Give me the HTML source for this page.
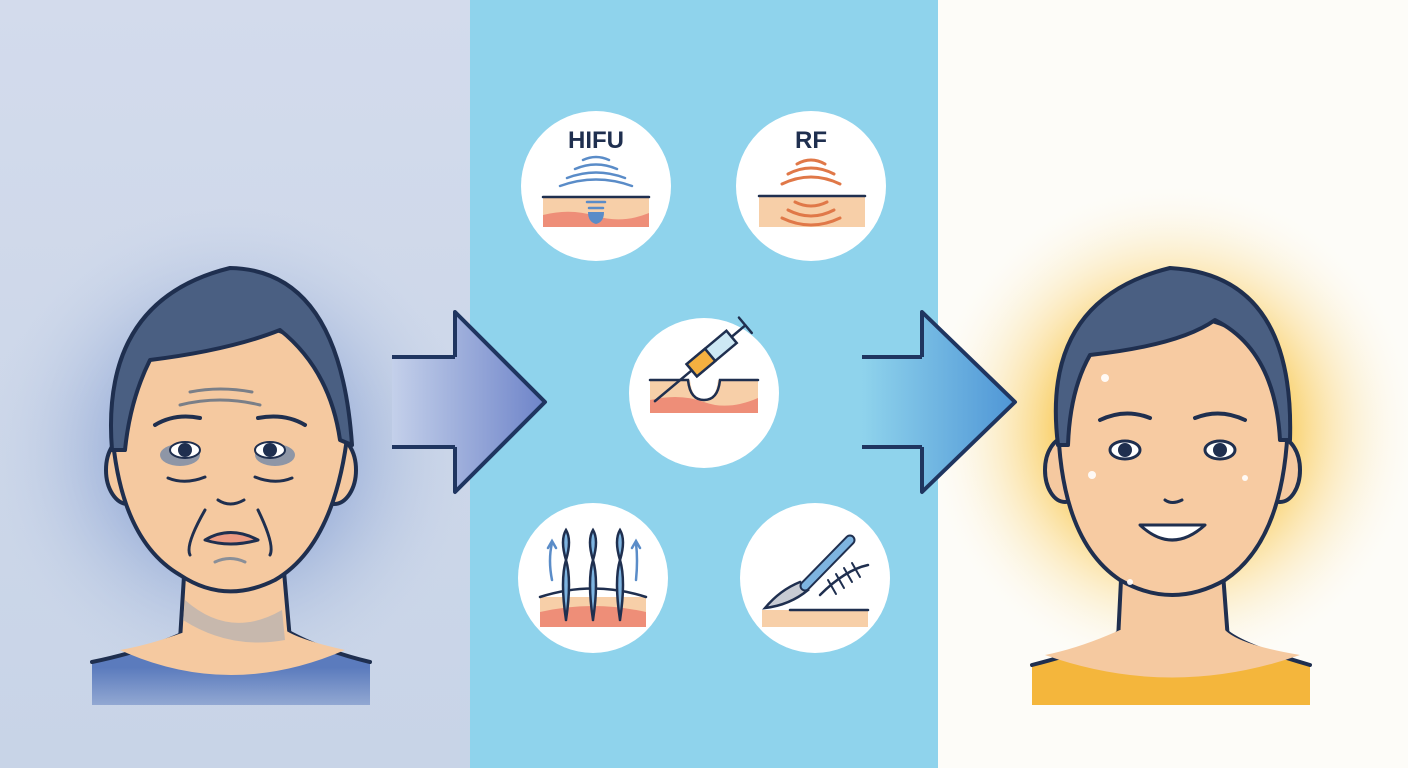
<!DOCTYPE html>
<html><head><meta charset="utf-8"><style>html,body{margin:0;padding:0;width:1408px;height:768px;overflow:hidden}svg{display:block}</style></head>
<body>
<svg width="1408" height="768" viewBox="0 0 1408 768" xmlns="http://www.w3.org/2000/svg">
<defs>
<linearGradient id="lbg" x1="0" y1="0" x2="0" y2="1"><stop offset="0" stop-color="#d3dbec"/><stop offset="1" stop-color="#c8d4e7"/></linearGradient>
<radialGradient id="lglow" cx="230" cy="450" r="250" gradientUnits="userSpaceOnUse"><stop offset="0.35" stop-color="#7c97cf" stop-opacity="0.7"/><stop offset="1" stop-color="#c9d5e8" stop-opacity="0"/></radialGradient>
<radialGradient id="rglow" cx="1172" cy="430" r="250" gradientUnits="userSpaceOnUse"><stop offset="0.45" stop-color="#f9c850" stop-opacity="0.85"/><stop offset="1" stop-color="#fdfcf8" stop-opacity="0"/></radialGradient>
<linearGradient id="a1" x1="0" y1="0" x2="1" y2="0"><stop offset="0" stop-color="#c4d0ea"/><stop offset="1" stop-color="#6e84c9"/></linearGradient>
<linearGradient id="a2" x1="0" y1="0" x2="1" y2="0"><stop offset="0" stop-color="#8fd3ec"/><stop offset="1" stop-color="#4f96d6"/></linearGradient>
<linearGradient id="shirtL" x1="0" y1="0" x2="0" y2="1"><stop offset="0.5" stop-color="#5b7bbd"/><stop offset="1" stop-color="#5b7bbd" stop-opacity="0.5"/></linearGradient>
</defs>
<rect x="0" y="0" width="470" height="768" fill="url(#lbg)"/>
<rect x="0" y="150" width="470" height="580" fill="url(#lglow)"/>
<rect x="470" y="0" width="468" height="768" fill="#8fd3ec"/>
<rect x="938" y="0" width="470" height="768" fill="#fdfcf8"/>
<rect x="938" y="150" width="470" height="580" fill="url(#rglow)"/>

<!-- Arrows -->
<g stroke="#1f3560" stroke-width="4" stroke-linejoin="round">
<polygon points="392,357 455,357 455,312 545,402 455,492 455,447 392,447" fill="url(#a1)" stroke="none"/>
<polyline points="392,357 455,357" fill="none"/><polyline points="392,447 455,447" fill="none"/>
<polyline points="455,357 455,312 545,402 455,492 455,447" fill="none"/>
<polygon points="862,357 922,357 922,312 1015,402 922,492 922,447 862,447" fill="url(#a2)" stroke="none"/>
<polyline points="862,357 922,357" fill="none"/><polyline points="862,447 922,447" fill="none"/>
<polyline points="922,357 922,312 1015,402 922,492 922,447" fill="none"/>
</g>

<!-- Old face -->
<g stroke="#1f2f4f" stroke-width="4" stroke-linejoin="round" stroke-linecap="round">
<path d="M92,662 Q180,640 190,630 L280,630 Q300,645 370,662 L370,705 L92,705 Z" fill="url(#shirtL)" stroke="none"/>
<path d="M92,662 Q150,650 190,630 L285,630 Q320,650 370,662" fill="none"/>
<path d="M185,560 L180,640 Q230,690 290,640 L283,560 Z" fill="#f5c9a0"/>
<path d="M120,650 Q230,700 345,650 Q300,640 285,630 L190,630 Q150,645 120,650Z" fill="#f5c9a0" stroke="none"/>
<path d="M185,600 Q230,640 282,610 L285,640 Q230,650 183,620Z" fill="#a9adb5" stroke="none" opacity="0.6"/>
<ellipse cx="128" cy="470" rx="22" ry="34" fill="#f5c9a0"/>
<ellipse cx="334" cy="470" rx="22" ry="34" fill="#f5c9a0"/>
<path d="M112,430 Q120,540 180,575 Q225,605 275,580 Q335,545 348,430 Q340,330 230,320 Q120,330 112,430Z" fill="#f5c9a0"/>
<path d="M112,450 Q100,300 230,268 Q340,270 352,445 L340,440 Q330,370 280,330 Q230,350 150,360 Q130,400 125,450 Z" fill="#4a5f82"/>
<path d="M190,392 Q220,386 252,392" fill="none" stroke="#7a7f88" stroke-width="3"/>
<path d="M180,405 Q220,395 260,405" fill="none" stroke="#7a7f88" stroke-width="3"/>
<path d="M155,425 Q175,413 200,418" fill="none"/>
<path d="M258,418 Q285,413 305,425" fill="none"/>
<ellipse cx="180" cy="455" rx="20" ry="11" fill="#8e96a6" stroke="none"/>
<ellipse cx="275" cy="455" rx="20" ry="11" fill="#8e96a6" stroke="none"/>
<ellipse cx="185" cy="450" rx="15" ry="8" fill="#fff" stroke-width="2"/>
<ellipse cx="270" cy="450" rx="15" ry="8" fill="#fff" stroke-width="2"/>
<circle cx="185" cy="450" r="7" fill="#1f2f4f" stroke="none"/>
<circle cx="270" cy="450" r="7" fill="#1f2f4f" stroke="none"/>
<path d="M168,478 Q185,485 205,477" fill="none" stroke-width="3"/>
<path d="M255,477 Q275,485 292,478" fill="none" stroke-width="3"/>
<path d="M218,500 Q230,508 244,500" fill="none" stroke-width="3"/>
<path d="M205,510 Q185,545 190,555" fill="none" stroke-width="3"/>
<path d="M258,510 Q275,545 270,555" fill="none" stroke-width="3"/>
<path d="M205,540 Q230,525 258,540 Q230,548 205,540Z" fill="#ec9a82" stroke-width="3"/>
<path d="M215,562 Q230,555 245,562" fill="none" stroke="#8a8f98" stroke-width="3"/>
</g>

<!-- Young face -->
<g stroke="#1f2f4f" stroke-width="4" stroke-linejoin="round" stroke-linecap="round">
<path d="M1032,665 Q1110,645 1120,630 L1225,630 Q1240,645 1310,665 L1310,705 L1032,705 Z" fill="#f4b63c" stroke="none"/>
<path d="M1032,665 Q1110,645 1120,630 L1225,630 Q1240,645 1310,665" fill="none"/>
<path d="M1122,560 L1118,640 Q1172,690 1228,640 L1222,560 Z" fill="#f5c9a0"/>
<path d="M1045,655 Q1172,700 1300,655 Q1240,645 1225,630 L1120,630 Q1080,648 1045,655Z" fill="#f5c9a0" stroke="none"/>
<ellipse cx="1065" cy="470" rx="20" ry="32" fill="#f5c9a0"/>
<ellipse cx="1280" cy="470" rx="20" ry="32" fill="#f5c9a0"/>
<path d="M1058,420 Q1060,540 1120,580 Q1172,610 1225,580 Q1285,540 1288,420 Q1280,320 1172,315 Q1065,320 1058,420Z" fill="#f7cba2"/>
<path d="M1058,445 Q1040,300 1170,268 Q1295,275 1290,440 L1280,440 Q1275,350 1215,320 Q1180,345 1090,355 Q1070,390 1068,445 Z" fill="#4a5f82"/>
<path d="M1100,420 Q1125,408 1150,418" fill="none"/>
<path d="M1195,418 Q1220,408 1245,420" fill="none"/>
<ellipse cx="1125" cy="450" rx="15" ry="9" fill="#fff" stroke-width="3"/>
<ellipse cx="1220" cy="450" rx="15" ry="9" fill="#fff" stroke-width="3"/>
<circle cx="1125" cy="450" r="7" fill="#1f2f4f" stroke="none"/>
<circle cx="1220" cy="450" r="7" fill="#1f2f4f" stroke="none"/>
<path d="M1165,500 Q1172,505 1182,500" fill="none" stroke-width="3"/>
<path d="M1140,525 Q1172,555 1205,525 Z" fill="#fff" stroke-width="3"/>
<g fill="#fff" stroke="none" opacity="0.9"><circle cx="1105" cy="378" r="4"/><circle cx="1092" cy="475" r="4"/><circle cx="1245" cy="478" r="3"/><circle cx="1130" cy="582" r="3"/></g>
</g>

<!-- Circles -->
<g stroke="#1f2f4f" stroke-width="2.5" fill="none" stroke-linecap="round">
<circle cx="596" cy="186" r="75" fill="#fff" stroke="none"/>
<circle cx="811" cy="186" r="75" fill="#fff" stroke="none"/>
<circle cx="704" cy="393" r="75" fill="#fff" stroke="none"/>
<circle cx="593" cy="578" r="75" fill="#fff" stroke="none"/>
<circle cx="815" cy="578" r="75" fill="#fff" stroke="none"/>

<text x="596" y="148" font-family="Liberation Sans, sans-serif" font-weight="bold" font-size="24" fill="#1f2f4f" stroke="none" text-anchor="middle">HIFU</text>
<rect x="543" y="197" width="106" height="30" fill="#f7cfa8" stroke="none"/>
<path d="M543,215 Q570,208 596,216 T649,213 L649,227 L543,227Z" fill="#ee8e78" stroke="none"/>
<line x1="543" y1="197" x2="649" y2="197"/>
<g stroke="#5a8cc8" stroke-width="2.5"><path d="M583,160 Q596,154 609,160"/><path d="M575,169 Q596,160 617,169"/><path d="M567,178 Q596,167 625,178"/><path d="M560,186 Q596,173 632,186"/><line x1="587" y1="202" x2="605" y2="202"/><line x1="589" y1="208" x2="603" y2="208"/></g>
<path d="M588,212 L604,212 Q604,222 596,224 Q588,222 588,212Z" fill="#5a8cc8" stroke="none"/>

<text x="811" y="148" font-family="Liberation Sans, sans-serif" font-weight="bold" font-size="24" fill="#1f2f4f" stroke="none" text-anchor="middle">RF</text>
<rect x="759" y="197" width="106" height="30" fill="#f7cfa8" stroke="none"/>
<line x1="759" y1="196" x2="865" y2="196"/>
<g stroke="#e07848" stroke-width="3"><path d="M797,164 Q811,156 825,164"/><path d="M788,174 Q811,162 834,174"/><path d="M782,184 Q811,170 840,184"/><path d="M795,202 Q811,210 827,202"/><path d="M788,210 Q811,222 834,210"/><path d="M782,218 Q811,232 840,218"/></g>

<rect x="650" y="380" width="108" height="33" fill="#f7cfa8" stroke="none"/>
<path d="M650,400 Q680,393 704,402 T758,398 L758,413 L650,413Z" fill="#ee8e78" stroke="none"/>
<path d="M704,400 Q692,400 690,380 L718,380 Q716,400 704,400Z" fill="#fff" stroke="none"/>
<path d="M650,380 L688,380 Q690,400 704,400 Q718,400 720,380 L758,380" />
<g transform="rotate(-40 704 360)"><rect x="688" y="352" width="52" height="16" fill="#cde8f4"/><rect x="688" y="352" width="24" height="16" fill="#f4b040"/><line x1="740" y1="360" x2="758" y2="360"/><line x1="758" y1="350" x2="758" y2="370"/><line x1="688" y1="360" x2="640" y2="360"/></g>

<rect x="540" y="597" width="106" height="30" fill="#f7cfa8" stroke="none"/>
<path d="M540,612 Q593,600 646,612 L646,627 L540,627Z" fill="#ee8e78" stroke="none"/>
<path d="M540,597 Q593,580 646,597"/>
<g fill="#7eb4e0"><path d="M566,620 Q560,580 566,560 Q560,540 566,530 Q572,540 566,560 Q572,580 566,620"/><path d="M593,620 Q587,580 593,560 Q587,540 593,530 Q599,540 593,560 Q599,580 593,620"/><path d="M620,620 Q614,580 620,560 Q614,540 620,530 Q626,540 620,560 Q626,580 620,620"/></g>
<g stroke="#5a8cc8"><path d="M552,580 Q548,560 552,543"/><path d="M548,548 L552,541 L556,548"/><path d="M636,580 Q638,560 636,543"/><path d="M632,548 L636,541 L640,548"/></g>

<rect x="762" y="610" width="106" height="17" fill="#f7cfa8" stroke="none"/>
<line x1="790" y1="610" x2="868" y2="610"/>
<path d="M765,608 Q780,590 800,582 L808,590 Q790,605 765,608Z" fill="#c8ccd4"/>
<line x1="805" y1="586" x2="850" y2="540" stroke="#1f2f4f" stroke-width="11"/>
<line x1="805" y1="586" x2="850" y2="540" stroke="#7eb4e0" stroke-width="7"/>
<path d="M820,595 Q845,570 868,565"/>
<g stroke-width="2"><line x1="828" y1="580" x2="836" y2="594"/><line x1="836" y1="574" x2="844" y2="588"/><line x1="844" y1="568" x2="852" y2="582"/><line x1="852" y1="563" x2="860" y2="577"/></g>
</g>
</svg>
</body></html>
